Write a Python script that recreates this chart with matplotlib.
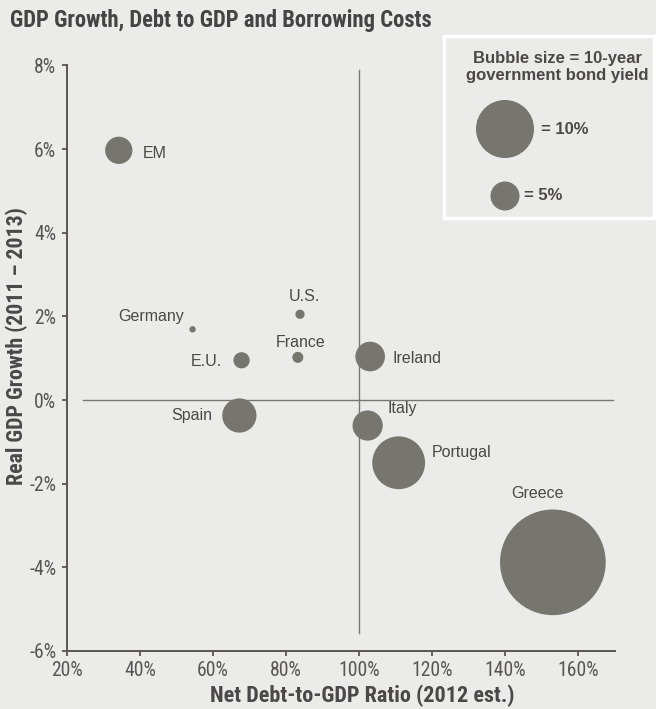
import matplotlib
matplotlib.use("Agg")
import matplotlib.pyplot as plt
from matplotlib import font_manager as fm
from matplotlib.patches import Rectangle

# --- data -------------------------------------------------------------
countries = ["EM", "Germany", "U.S.", "France", "E.U.", "Ireland",
             "Spain", "Italy", "Portugal", "Greece"]
debt_to_gdp = [34.2, 54.4, 83.8, 83.2, 67.8, 103.0, 67.2, 102.3, 110.8, 153.0]
gdp_growth = [5.97, 1.69, 2.05, 1.02, 0.95, 1.04, -0.37, -0.61, -1.50, -3.88]
bond_yield = [4.7, 1.1, 1.6, 1.9, 2.8, 5.1, 5.9, 5.2, 9.1, 18.2]

legend_yields = [10, 5]
legend_labels = ["= 10%", "= 5%"]

x_ticks = [20, 40, 60, 80, 100, 120, 140, 160]
y_ticks = [-6, -4, -2, 0, 2, 4, 6, 8]

TITLE = "GDP Growth, Debt to GDP and Borrowing Costs"
XLABEL = "Net Debt-to-GDP Ratio (2012 est.)"
YLABEL = "Real GDP Growth (2011 \u2013 2013)"
KEY_TITLE = "Bubble size = 10-year\ngovernment bond yield"

# --- fonts ------------------------------------------------------------
_entries = fm.fontManager.ttflist


def pick_family(candidates, weight):
    for name in candidates:
        for f in _entries:
            if f.name == name and f.weight in (weight, str(weight)):
                return name
    return "Liberation Sans"


NARROW_CANDIDATES = ["Roboto Condensed", "Archivo Narrow", "IBM Plex Sans Condensed",
                     "Fira Sans Condensed", "Barlow Semi Condensed", "Asap Condensed"]
NARROW = pick_family(NARROW_CANDIDATES, 400)
NARROW_BOLD = pick_family(NARROW_CANDIDATES, 700)
REGULAR = "Liberation Sans"

# --- styling ----------------------------------------------------------
BG = "#ebebe9"
BUBBLE = "#76766e"
TEXT = "#4a4848"
AXIS = "#5b5550"
REFLINE = "#7a7672"

# bubble diameter in points per percentage point of yield
DIAM_PER_PCT = 4.18


def bubble_area(y):
    return (DIAM_PER_PCT * y) ** 2


# label placement relative to each bubble (pixels) and alignment
label_offsets = {
    "EM": (24, -3, "left"),
    "Germany": (-9, 13, "right"),
    "U.S.": (4, 18, "center"),
    "France": (3, 15, "center"),
    "E.U.": (-20, -1.5, "right"),
    "Ireland": (22, -1.5, "left"),
    "Spain": (-27, 0, "right"),
    "Italy": (20, 17, "left"),
    "Portugal": (33.5, 10.5, "left"),
    "Greece": (-15.5, 68.4, "center"),
}

W, H = 656, 709
fig = plt.figure(figsize=(W / 100, H / 100), dpi=100, facecolor=BG)
renderer = fig.canvas.get_renderer()


def fit_size(s, family, weight, target_px, base=12.0):
    """Font size at which the string spans target_px pixels."""
    t = fig.text(0, 0, s, family=family, fontweight=weight, fontsize=base)
    w = t.get_window_extent(renderer).width
    t.remove()
    return base * target_px / w


title_size = fit_size(TITLE, NARROW_BOLD, "bold", 422)
xlabel_size = fit_size(XLABEL, NARROW_BOLD, "bold", 306)
ylabel_size = fit_size(YLABEL, NARROW_BOLD, "bold", 278)
tick_size = fit_size("100%", NARROW, "normal", 41)

ax = fig.add_axes([66.9 / W, 1 - 651 / H, (615 - 66.9) / W, (651 - 65.4) / H])
ax.set_facecolor(BG)
ax.set_xlim(20, 170)
ax.set_ylim(-6, 8)

# quadrant reference lines
ax.plot([24.5, 169.4], [0, 0], color=REFLINE, lw=1.0, zorder=1)
ax.plot([100, 100], [-5.56, 7.9], color=REFLINE, lw=1.0, zorder=1)

ax.scatter(debt_to_gdp, gdp_growth, s=[bubble_area(v) for v in bond_yield],
           color=BUBBLE, edgecolors="none", zorder=3)

for name, x, y in zip(countries, debt_to_gdp, gdp_growth):
    dx, dy, ha = label_offsets[name]
    ax.annotate(name, (x, y), xytext=(dx, dy), textcoords="offset pixels",
                ha=ha, va="center", fontsize=11.5, family=REGULAR, color=TEXT,
                zorder=4)

for side in ("top", "right"):
    ax.spines[side].set_visible(False)
for side in ("left", "bottom"):
    ax.spines[side].set_color(AXIS)
    ax.spines[side].set_linewidth(1.4)

ax.set_xticks(x_ticks)
ax.set_xticklabels([f"{v}%" for v in x_ticks])
ax.set_yticks(y_ticks)
ax.set_yticklabels([f"{v}%" for v in y_ticks])
ax.tick_params(direction="out", length=3.6, width=1.3, color=AXIS,
               labelcolor="#575555", labelsize=tick_size)
ax.tick_params(axis="x", pad=3.5)
ax.tick_params(axis="y", pad=4)
for lbl in ax.get_xticklabels() + ax.get_yticklabels():
    lbl.set_family(NARROW)

# title and axis labels
fig.text(10 / W, 1 - 27 / H, TITLE, ha="left", va="baseline",
         fontsize=title_size, fontweight="bold", family=NARROW_BOLD, color="#444444")
fig.text(362 / W, 1 - 702 / H, XLABEL, ha="center", va="baseline",
         fontsize=xlabel_size, fontweight="bold", family=NARROW_BOLD, color=TEXT)
fig.text(17 / W, 1 - 346 / H, YLABEL, ha="center", va="center", rotation=90,
         fontsize=ylabel_size, fontweight="bold", family=NARROW_BOLD, color=TEXT)

# bubble size key
bx0, bx1, by0, by1 = 444, 654, 36, 218
box = Rectangle((bx0 / W, 1 - by1 / H), (bx1 - bx0) / W, (by1 - by0) / H,
                transform=fig.transFigure, facecolor=BG, edgecolor="white",
                linewidth=2.5, zorder=5)
fig.patches.append(box)

key = fig.add_axes([bx0 / W, 1 - by1 / H, (bx1 - bx0) / W, (by1 - by0) / H])
key.set_xlim(bx0, bx1)
key.set_ylim(by1, by0)
key.axis("off")
key.set_zorder(6)
key.text(557, 66.7, KEY_TITLE, ha="center", va="center", fontsize=12,
         fontweight="bold", family=REGULAR, color=TEXT, linespacing=1.2)
key_y = [129, 196]
key_label_x = [541, 524]
key.scatter([505] * len(legend_yields), key_y,
            s=[bubble_area(v) for v in legend_yields], color=BUBBLE,
            edgecolors="none")
for lab, ky, kx in zip(legend_labels, key_y, key_label_x):
    key.text(kx, ky, lab, ha="left", va="center", fontsize=12,
             fontweight="bold", family=REGULAR, color=TEXT)

fig.savefig("out.png", dpi=100, facecolor=BG)
